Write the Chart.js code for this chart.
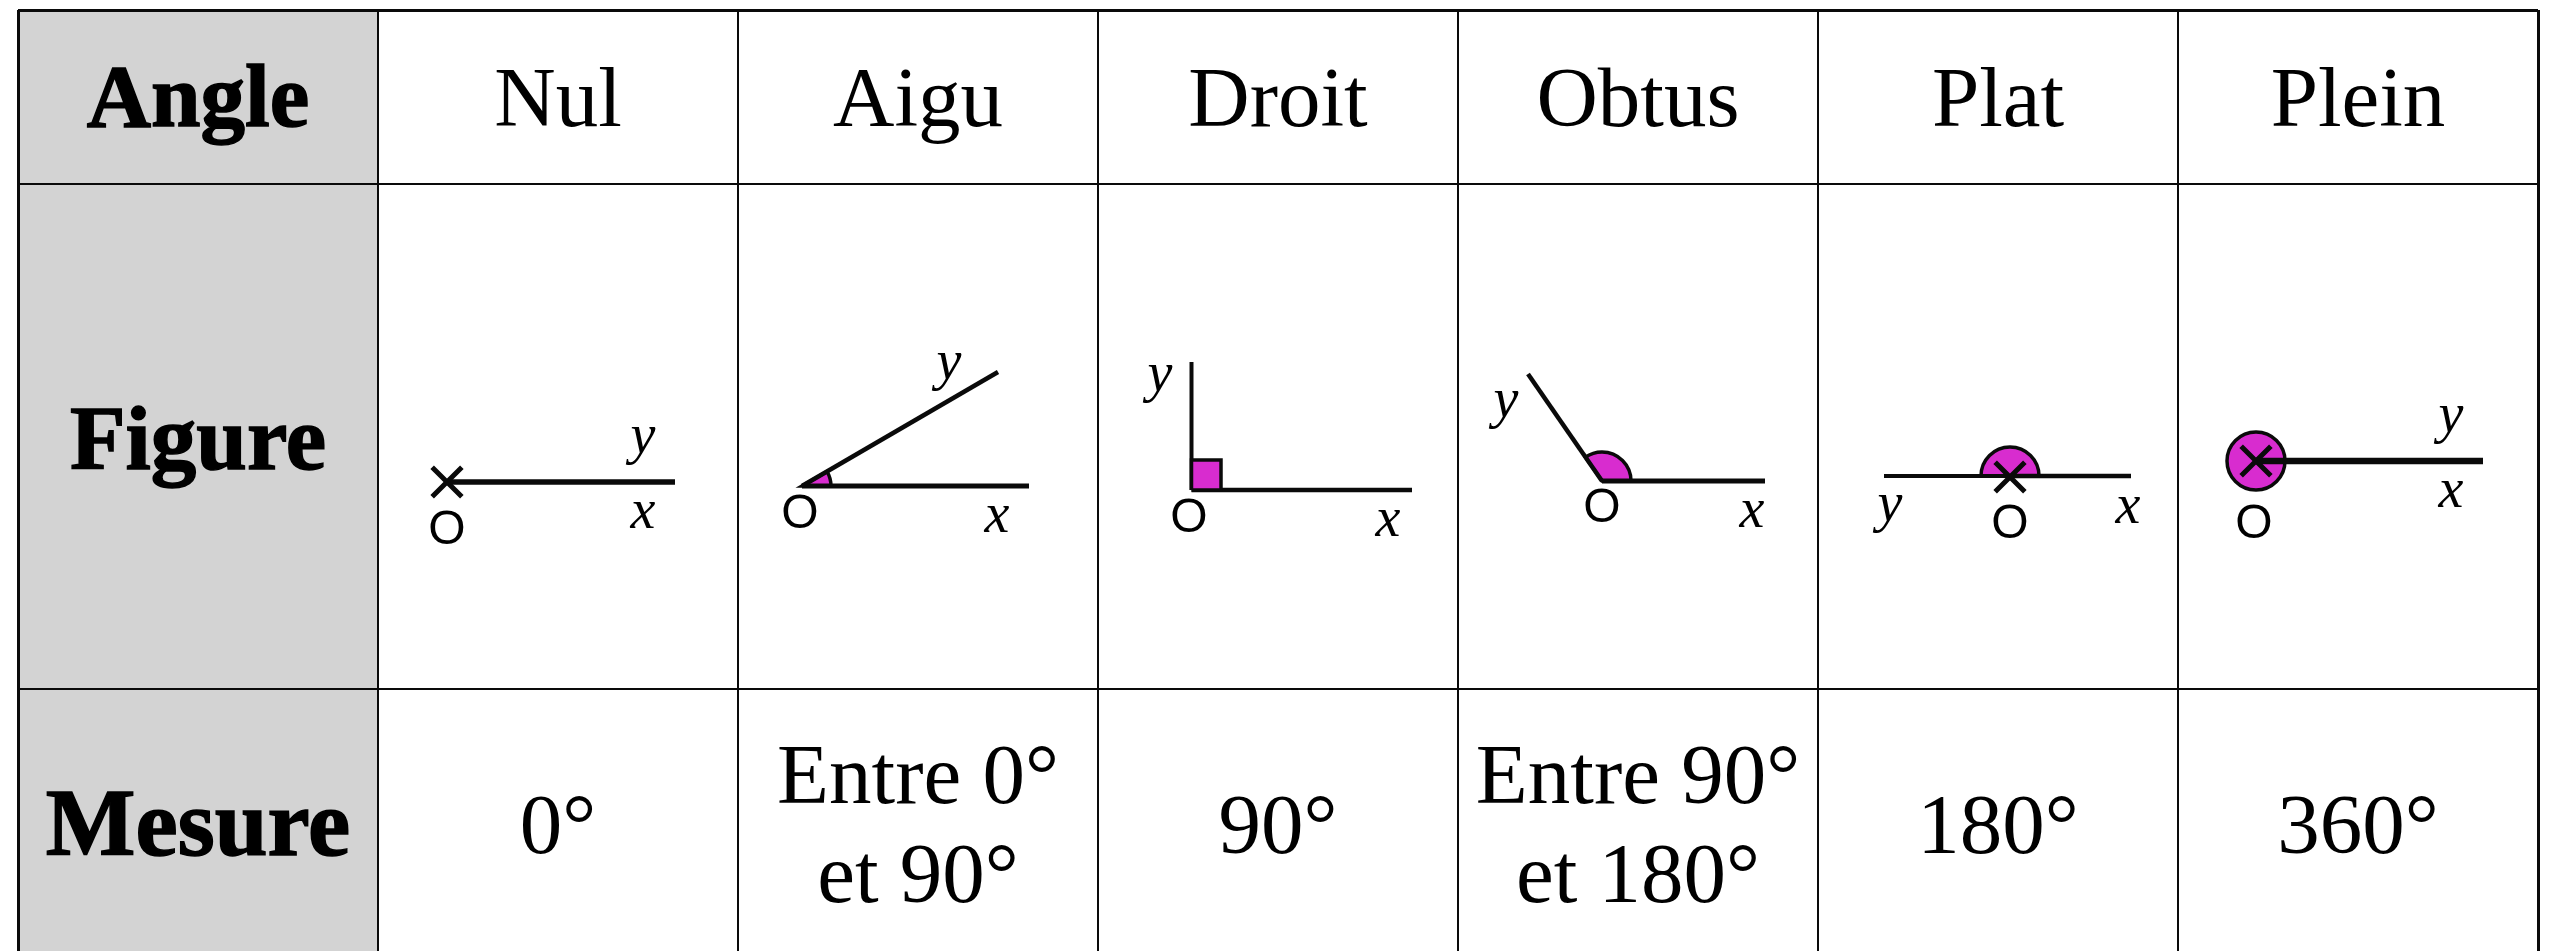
<!DOCTYPE html>
<html lang="fr">
<head>
<meta charset="utf-8">
<title>Angles</title>
<style>html,body{margin:0;padding:0;background:#fff}canvas{display:block}</style>
<script src="https://cdn.jsdelivr.net/npm/chart.js@4"></script>
</head>
<body>
<canvas id="c" width="2553" height="951"></canvas>
<script>
// Table structure
const columnEdges = [0, 360, 720, 1080, 1440, 1800, 2160, 2520];
const rowEdges = [0, 174, 679];
const rowHeaders = ["Angle", "Figure", "Mesure"];
const rowHeaderBaselines = [116, 459, 845];
const rowHeaderSizes = [89, 91, 95];
const angleNames = ["Nul", "Aigu", "Droit", "Obtus", "Plat", "Plein"];
const measureLines = [["0°"], ["Entre 0°", "et 90°"], ["90°"], ["Entre 90°", "et 180°"], ["180°"], ["360°"]];
const nameBaseline = 116;
const singleLineBaseline = 843;
const doubleLineBaselines = [793, 892];

// Figures (one entry per angle, in table units)
const vertexX = [429, 784, 1173.5, 1584, 1992, 2238];
const vertexY = [472, 476, 480, 471, 466, 451];
const rayXEndX = [657, 1011, 1394, 1747, 2113, 2465];
const rayXEndY = [472, 476, 480, 471, 466, 451];
const rayYEndX = [null, 980, 1173.5, 1510, 1866, null];
const rayYEndY = [null, 362, 352, 364, 466, null];
const rayWidths = [5.5, 5, 4.5, 5, 4.5, 6.5];
const angleDegrees = [0, 30, 90, 125, 180, 360];
const wedgeRadius = [0, 29, 0, 29, 29, 29];
const squareCornerX = [1173.5, 1203, 1203, 1173.5, 1173.5];
const squareCornerY = [480, 480, 450, 450, 480];
const crossX = [429, 1992, 2238];
const crossY = [472, 467, 451];
const labelOX = [429, 782, 1171, 1584, 1992, 2236];
const labelOY = [534, 518, 522, 512, 528, 528];
const labelXX = [625, 979, 1370, 1734, 2110, 2433];
const labelXY = [518, 522, 526, 517, 513, 497];
const labelYX = [625, 931, 1142, 1488, 1872, 2433];
const labelYY = [443, 369, 381, 407, 511, 422];

const INK = "#0a0a0a", MAGENTA = "#d82ccf", GREY = "#d3d3d3";
const SERIF = '"Liberation Serif", "Times New Roman", serif';
const SANS = '"Liberation Sans", Arial, sans-serif';

const datasets = [];
angleNames.forEach((name, i) => {
  datasets.push({
    label: name + " x",
    data: [{x: vertexX[i], y: vertexY[i]}, {x: rayXEndX[i], y: rayXEndY[i]}],
    borderWidth: rayWidths[i]
  });
  if (rayYEndX[i] !== null) {
    datasets.push({
      label: name + " y",
      data: [{x: vertexX[i], y: vertexY[i]}, {x: rayYEndX[i], y: rayYEndY[i]}],
      borderWidth: rayWidths[i] - 0.5
    });
  }
});
datasets.forEach(d => Object.assign(d, {showLine: true, pointRadius: 0, borderColor: INK, fill: false, tension: 0}));
datasets.unshift({
  label: "Droit square",
  data: squareCornerX.map((x, i) => ({x, y: squareCornerY[i]})),
  showLine: true, pointRadius: 0, borderColor: INK, borderWidth: 3.5,
  backgroundColor: MAGENTA, fill: "shape", tension: 0
});
datasets.push({
  label: "Sommet",
  data: crossX.map((x, i) => ({x, y: crossY[i]})),
  showLine: false, pointStyle: "crossRot", pointRadius: 21,
  pointBorderColor: INK, pointBorderWidth: 5, borderColor: INK
});

const tablePlugin = {
  id: "table",
  beforeDraw(chart) {
    const {ctx, scales: {x, y}} = chart;
    ctx.save();
    ctx.fillStyle = "#fff";
    ctx.fillRect(0, 0, chart.width, chart.height);
    ctx.fillStyle = GREY;
    ctx.fillRect(x.getPixelForValue(columnEdges[0]), y.getPixelForValue(0),
      x.getPixelForValue(columnEdges[1]) - x.getPixelForValue(columnEdges[0]), chart.height);
    ctx.restore();
  },
  beforeDatasetsDraw(chart) {
    const {ctx, scales: {x, y}} = chart;
    ctx.save();
    angleNames.forEach((_, i) => {
      if (!wedgeRadius[i]) return;
      const cx = x.getPixelForValue(vertexX[i]), cy = y.getPixelForValue(vertexY[i]);
      ctx.beginPath();
      const a = angleDegrees[i] * Math.PI / 180;
      if (angleDegrees[i] < 360) ctx.moveTo(cx, cy);
      ctx.arc(cx, cy, wedgeRadius[i], 0, -a, true);
      ctx.closePath();
      ctx.fillStyle = MAGENTA;
      ctx.fill();
      ctx.lineWidth = 3.5;
      ctx.strokeStyle = INK;
      ctx.stroke();
    });
    ctx.restore();
  },
  afterDraw(chart) {
    const {ctx, scales: {x, y}} = chart;
    const text = (s, vx, vy, font) => {
      ctx.font = font;
      ctx.fillText(s, x.getPixelForValue(vx), y.getPixelForValue(vy));
    };
    const mid = c => (columnEdges[c] + columnEdges[c + 1]) / 2;
    ctx.save();
    ctx.fillStyle = "#000";
    ctx.textAlign = "center";
    ctx.textBaseline = "alphabetic";
    rowHeaders.forEach((s, i) => {
      text(s, mid(0), rowHeaderBaselines[i], `bold ${rowHeaderSizes[i]}px ${SERIF}`);
      ctx.lineWidth = 1.5;
      ctx.strokeStyle = "#000";
      ctx.strokeText(s, x.getPixelForValue(mid(0)), y.getPixelForValue(rowHeaderBaselines[i]));
    });
    angleNames.forEach((s, i) => {
      text(s, mid(i + 1), nameBaseline, `85px ${SERIF}`);
      const lines = measureLines[i];
      if (lines.length === 1) text(lines[0], mid(i + 1), singleLineBaseline, `85px ${SERIF}`);
      else lines.forEach((l, k) => text(l, mid(i + 1), doubleLineBaselines[k], `85px ${SERIF}`));
      text("O", labelOX[i], labelOY[i], `48px ${SANS}`);
      text("x", labelXX[i], labelXY[i], `italic 56px ${SERIF}`);
      text("y", labelYX[i], labelYY[i], `italic 56px ${SERIF}`);
    });
    ctx.restore();
  }
};

new Chart(document.getElementById("c"), {
  type: "scatter",
  data: {datasets},
  plugins: [tablePlugin],
  options: {
    responsive: false,
    animation: false,
    events: [],
    layout: {autoPadding: false, padding: {left: 18, top: 10, right: 15, bottom: 0}},
    plugins: {legend: {display: false}, tooltip: {enabled: false}, title: {display: false}},
    scales: {
      x: {
        type: "linear", min: 0, max: 2520,
        afterBuildTicks: s => { s.ticks = columnEdges.map(value => ({value})); },
        ticks: {display: false},
        border: {display: false},
        grid: {color: INK, lineWidth: c => (c.index === 0 || c.index === columnEdges.length - 1) ? 3 : 2, drawTicks: false}
      },
      y: {
        type: "linear", min: 0, max: 941, reverse: true,
        afterBuildTicks: s => { s.ticks = rowEdges.map(value => ({value})); },
        ticks: {display: false},
        border: {display: false},
        grid: {color: INK, lineWidth: c => c.index === 0 ? 3 : 2, drawTicks: false}
      }
    }
  }
});
</script>
</body>
</html>
